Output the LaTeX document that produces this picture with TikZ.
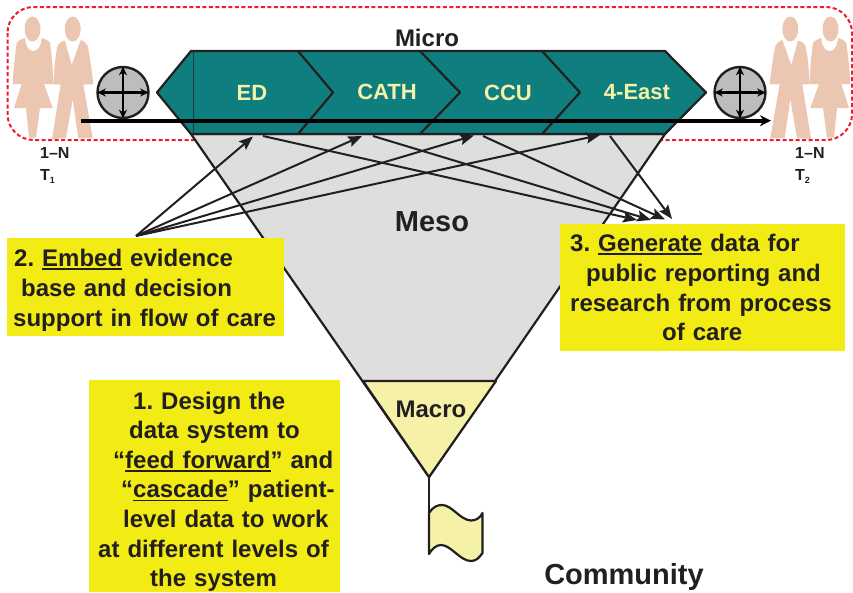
\documentclass[tikz,border=0pt]{standalone}
\usepackage{fontspec}
\setmainfont{Liberation Sans}
\usetikzlibrary{arrows.meta}
\frenchspacing
\definecolor{ink}{HTML}{231F20}
\definecolor{tealfill}{HTML}{0E7F7E}
\definecolor{boxyellow}{HTML}{F3EB14}
\definecolor{paleyellow}{HTML}{F5F2A8}
\definecolor{funnelgrey}{HTML}{DEDEDD}
\definecolor{skin}{HTML}{EBC7B2}
\definecolor{dashred}{HTML}{EE1C2E}
\definecolor{discgrey}{HTML}{BDBDBD}
\newsavebox\ulwordbox
\newcommand\ulword[1]{\sbox\ulwordbox{#1}\rlap{\rule[-3.2pt]{\wd\ulwordbox}{1.6pt}}\usebox\ulwordbox}
\newcommand\peoplefig{%
  \fill[skin] (32.5,29) ellipse[x radius=8,y radius=12.5];
  \fill[skin] (25,38) .. controls (26,47) and (29,51) .. (33,51) .. controls (38,51) and (41,47) .. (41.7,38)
     .. controls (45,39) and (49,41) .. (50,43) .. controls (52,56) and (53,72) .. (53.3,84) -- (44,84) -- (52.7,108) -- (40,108) -- (36,137.5) -- (29,137.5) -- (26,108) -- (14,108) -- (21.7,84) -- (12.7,84) .. controls (13,72) and (15,56) .. (16.7,43) .. controls (18,41) and (21,39) .. (25,38) -- cycle;
  \fill[skin] (72.7,29) ellipse[x radius=8,y radius=12.5];
  \fill[skin] (65,40.7) -- (71.7,65) -- (80.7,40) .. controls (84,41) and (87,44) .. (88,47) .. controls (90,58) and (92,72) .. (93.3,84.3) -- (83.3,84.3) -- (92.7,138) -- (78.3,138) -- (72.7,99.3) -- (66,138) -- (52,139) -- (60.7,84.3) -- (53.3,84.3) .. controls (54,72) and (55,58) .. (57.3,47) .. controls (58,44) and (61,41) .. (65,40.7) -- cycle;
}
\newcommand\crossdisc[2]{%
  \node[disc] (#1) at (#2,92.5) {};
  \draw[crossarrow] (#1.north) -- (#1.south);
  \draw[crossarrow] (#1.west) -- (#1.east);
}
\tikzset{
  disc/.style={circle,draw=ink,line width=2.4pt,fill=discgrey,minimum size=51pt,inner sep=0pt},
  crossarrow/.style={{Stealth[length=8.5pt,width=8pt]}-{Stealth[length=8.5pt,width=8pt]},black,line width=2.3pt,shorten >=1pt,shorten <=1pt},
  thinarrow/.style={-{Stealth[length=14pt,width=11pt,inset=2.5pt]},draw=ink,line width=2pt},
  outline/.style={draw=ink,line width=2.2pt,line join=round},
  stage/.style={text=paleyellow,font=\fontsize{22}{24}\bfseries\selectfont,inner sep=0pt},
  level/.style={text=ink,inner sep=0pt},
  notebox/.style={fill=boxyellow,text=ink,inner sep=0pt,anchor=north west,align=left,font=\fontsize{24}{29.6}\bfseries\selectfont},
  timelabel/.style={text=ink,inner sep=0pt,anchor=base west,font=\fontsize{16}{18}\bfseries\selectfont}
}
\begin{document}
\begin{tikzpicture}[x=1pt,y=-1pt]
\useasboundingbox (0,0) rectangle (853,592);
\fill[white] (0,0) rectangle (853,592);
% micro frame
\draw[dashred,line width=2pt,dash pattern=on 4pt off 2.5pt,rounded corners=26pt] (7.5,7) rectangle (852,140);
% people
\peoplefig
\begin{scope}[xshift=863pt,xscale=-1]
\peoplefig
\end{scope}
% funnel
\draw[outline,fill=funnelgrey] (191,134) -- (429,477) -- (665,134) -- cycle;
\draw[outline,fill=paleyellow] (363,381) -- (429,477) -- (496,381) -- cycle;
% flag
\draw[outline] (429,477) -- (429,554);
\draw[outline,fill=paleyellow] (429,513) .. controls (433,507) and (437,505) .. (442,505) .. controls (452,505) and (460,520) .. (471,520.5) .. controls (476,520.5) and (480,518) .. (482.5,513) -- (482.5,553) .. controls (479,558) and (476,561) .. (471,561) .. controls (460,561) and (451,545) .. (441,545) .. controls (436,545) and (432,549) .. (429,554) -- cycle;
% chevrons
\draw[outline,fill=tealfill] (157,92.5) -- (191,51) -- (665,51) -- (706,92.5) -- (665,134) -- (191,134) -- cycle;
\draw[ink!70!tealfill,line width=0.7pt] (193.5,51) -- (193.5,134);
\draw[outline] (298,51) -- (333,92.5) -- (298,134);
\draw[outline] (420,51) -- (460,92.5) -- (420,134);
\draw[outline] (542,51) -- (580,92.5) -- (542,134);
\node[stage] (ed) at (252,93) {ED};
\node[stage] (cath) at (387,92) {CATH};
\node[stage] (ccu) at (508,93) {CCU};
\node[stage] (east) at (637,92) {4-East};
% time line
\coordinate (tstart) at (81,120.7);
\coordinate (tend) at (771,120.7);
\draw[-{Stealth[length=11pt,width=11pt]},black,line width=4pt] (tstart) -- (tend);
\crossdisc{discl}{123}
\crossdisc{discr}{740}
% arrows
\coordinate (src) at (136,236);
\coordinate (in1) at (253,136.5);
\coordinate (in2) at (362,136);
\coordinate (in3) at (474,135.5);
\coordinate (in4) at (600,135);
\coordinate (out1) at (263,136);
\coordinate (out2) at (373,136);
\coordinate (out3) at (483,136);
\coordinate (out4) at (610,136);
\coordinate (res1) at (637,220);
\coordinate (res2) at (651,220);
\coordinate (res3) at (665,219.5);
\coordinate (res4) at (672,219);
\foreach \t in {in1,in2,in3,in4} \draw[thinarrow] (src) -- (\t);
\draw[thinarrow] (out1) -- (res1);
\draw[thinarrow] (out2) -- (res2);
\draw[thinarrow] (out3) -- (res3);
\draw[thinarrow] (out4) -- (res4);
% boxes
\node[notebox,text width=277pt,minimum height=98pt] (embed) at (7,238) {\rule{0pt}{23.5pt}\hspace*{7pt}2. \ulword{Embed} evidence\\\hspace*{14pt}base and decision\\\hspace*{6pt}support in flow of care};
\node[notebox,text width=285pt,minimum height=127pt] (generate) at (560,224) {\hspace*{10pt}3. \ulword{Generate} data for\\\hspace*{26pt}public reporting and\\\hspace*{10pt}research from process\\\hspace*{102pt}of care};
\node[notebox,text width=251pt,minimum height=212pt] (design) at (89,380) {\rule{0pt}{28.5pt}\hspace*{44pt}1. Design the\\\hspace*{40pt}data system to\\\hspace*{24pt}“\ulword{feed forward}” and\\\hspace*{32pt}“\ulword{cascade}” patient-\\\hspace*{34pt}level data to work\\\hspace*{9pt}at different levels of\\\hspace*{61pt}the system};
% level labels
\node[level,font=\fontsize{24}{28}\bfseries\selectfont] (micro) at (427,38) {Micro};
\node[level,font=\fontsize{29}{32}\bfseries\selectfont] (meso) at (432,222) {Meso};
\node[level,font=\fontsize{24}{28}\bfseries\selectfont] (macro) at (431,409) {Macro};
\node[level,font=\fontsize{29}{32}\bfseries\selectfont] (community) at (624,577) {Community};
% time labels
\node[timelabel] (na) at (40,158) {1–N};
\node[timelabel] (ta) at (40,180) {T\raisebox{-3pt}{\fontsize{9}{9}\bfseries\selectfont 1}};
\node[timelabel] (nb) at (795,158) {1–N};
\node[timelabel] (tb) at (795,180) {T\raisebox{-3pt}{\fontsize{9}{9}\bfseries\selectfont 2}};
\end{tikzpicture}
\end{document}
